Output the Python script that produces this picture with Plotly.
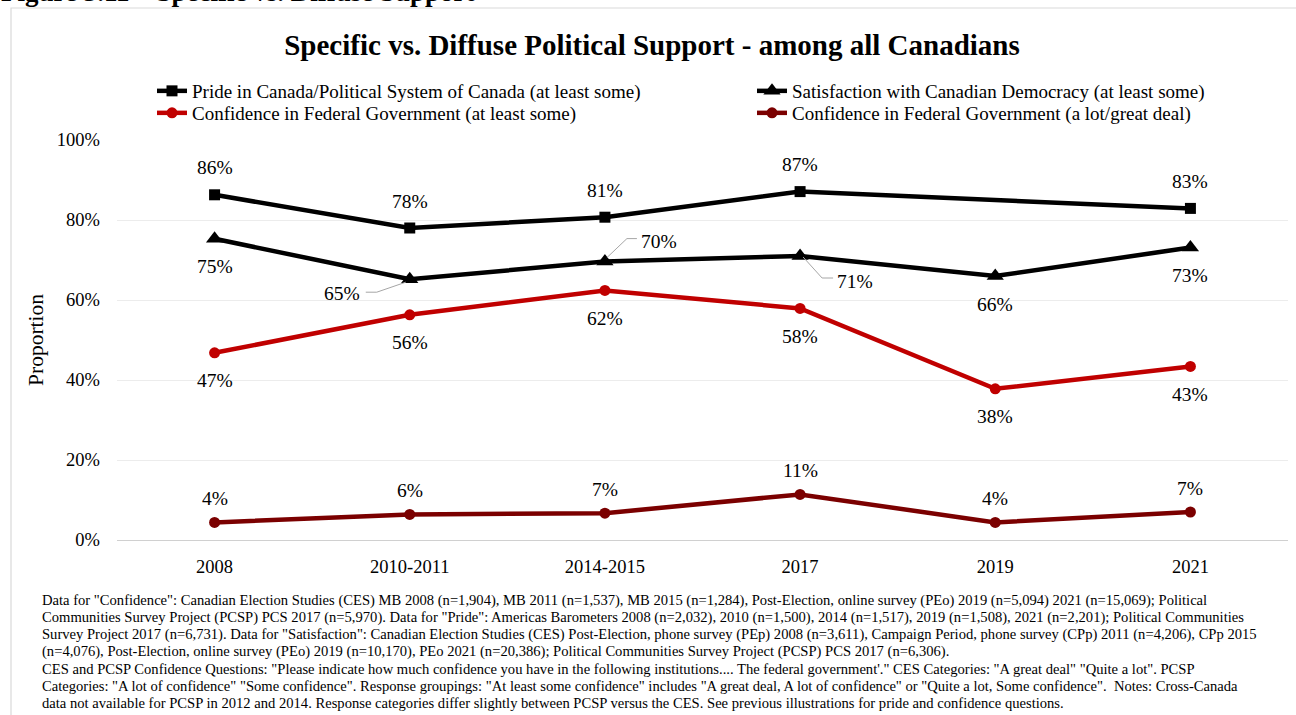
import plotly.graph_objects as go

# ---- data -------------------------------------------------------------
periods = ["2008", "2010-2011", "2014-2015", "2017", "2019", "2021"]

pride = [86.3, 78.0, 80.7, 87.1, None, 82.9]           # Pride in Canada / political system
satisfaction = [75.3, 65.2, 69.6, 71.0, 66.0, 73.1]    # Satisfaction with democracy
conf_some = [46.8, 56.3, 62.4, 57.9, 37.8, 43.4]       # Confidence in federal govt (at least some)
conf_great = [4.4, 6.4, 6.7, 11.4, 4.4, 7.0]           # Confidence in federal govt (a lot / great deal)

y_ticks = [0, 20, 40, 60, 80, 100]

series_names = [
    "Pride in Canada/Political System of Canada (at least some)",
    "Satisfaction with Canadian Democracy (at least some)",
    "Confidence in Federal Government (at least some)",
    "Confidence in Federal Government (a lot/great deal)",
]

chart_title = "<b>Specific vs. Diffuse Political Support - among all Canadians</b>"
figure_caption = "<b>Figure 3.11 – Specific vs. Diffuse Support</b>"

notes = [
    'Data for "Confidence": Canadian Election Studies (CES) MB 2008 (n=1,904), MB 2011 (n=1,537), MB 2015 (n=1,284), Post-Election, online survey (PEo) 2019 (n=5,094) 2021 (n=15,069); Political',
    'Communities Survey Project (PCSP) PCS 2017 (n=5,970). Data for "Pride": Americas Barometers 2008 (n=2,032), 2010 (n=1,500), 2014 (n=1,517), 2019 (n=1,508), 2021 (n=2,201); Political Communities',
    'Survey Project 2017 (n=6,731). Data for "Satisfaction": Canadian Election Studies (CES) Post-Election, phone survey (PEp) 2008 (n=3,611), Campaign Period, phone survey (CPp) 2011 (n=4,206), CPp 2015',
    '(n=4,076), Post-Election, online survey (PEo) 2019 (n=10,170), PEo 2021 (n=20,386); Political Communities Survey Project (PCSP) PCS 2017 (n=6,306).',
    'CES and PCSP Confidence Questions: "Please indicate how much confidence you have in the following institutions.... The federal government\'." CES Categories: "A great deal" "Quite a lot". PCSP',
    'Categories: "A lot of confidence" "Some confidence". Response groupings: "At least some confidence" includes "A great deal, A lot of confidence" or "Quite a lot, Some confidence".  Notes: Cross-Canada',
    'data not available for PCSP in 2012 and 2014. Response categories differ slightly between PCSP versus the CES. See previous illustrations for pride and confidence questions.',
]

# ---- layout geometry (pixels) ------------------------------------------
W, H = 1296, 715
L, R, T, B = 117, 1288, 140, 540
FONT = "Liberation Serif"

BLACK = "#000000"
RED = "#c00000"
MAROON = "#7b0000"


def px_x(p):
    return (p - L) / (R - L)


def px_y(p):
    return (B - p) / (B - T)


fig = go.Figure()

# each series gets its own legend box so the 2x2 key can be placed freely
legend_ids = ["legend", "legend2", "legend3", "legend4"]
legend_pos = [(152, 72), (752, 72), (152, 94), (752, 94)]

styles = [
    (pride, BLACK, "square", 11),
    (satisfaction, BLACK, "triangle-up", 15),
    (conf_some, RED, "circle", 11),
    (conf_great, MAROON, "circle", 11),
]
for name, lid, (vals, col, sym, size) in zip(series_names, legend_ids, styles):
    fig.add_trace(go.Scatter(
        x=periods, y=vals, name=name, mode="lines+markers", legend=lid,
        connectgaps=True, cliponaxis=False,
        line=dict(color=col, width=4.5),
        marker=dict(symbol=sym, size=size, color=col),
        hoverinfo="skip",
    ))

annotations = []


def value_label(i, v, dx, dy):
    # category axes take the position index, so labels use it directly
    annotations.append(dict(
        x=i, y=v, xref="x", yref="y", text=f"{v:.0f}%", showarrow=False,
        xshift=dx, yshift=dy, font=dict(family=FONT, size=19.5, color=BLACK),
    ))


# labels above / below each point
for i, v in enumerate(pride):
    if v is not None:
        value_label(i, v, 0, 27)
for i, v in enumerate(conf_some):
    value_label(i, v, 0, -28)
for i, v in enumerate(conf_great):
    value_label(i, v, 0, 24)

# satisfaction labels: some sit beside the marker with an elbow leader line
sat_offsets = [
    (0, -28, None),
    (-68, -14, [(-44, -13), (-33, -13), (-4, -3)]),
    (54, 20, [(32, 23), (22, 23), (2, 4)]),
    (55, -25, [(3, -1), (22, -22), (33, -22)]),
    (0, -28, None),
    (0, -28, None),
]
shapes = []
for i, (v, (dx, dy, leader)) in enumerate(zip(satisfaction, sat_offsets)):
    value_label(i, v, dx, dy)
    if leader:
        path = "M" + " L".join(f"{a},{b}" for a, b in leader)
        shapes.append(dict(
            type="path", path=path, xref="x", yref="y",
            xsizemode="pixel", ysizemode="pixel", xanchor=i, yanchor=v,
            line=dict(color="#a6a6a6", width=1),
        ))

# outer frame of the chart (runs off the right and bottom edges)
shapes.append(dict(
    type="rect", xref="paper", yref="paper", layer="below",
    x0=px_x(11), x1=px_x(1310), y0=px_y(8), y1=px_y(740),
    line=dict(color="#d9d9d9", width=1.2), fillcolor="rgba(0,0,0,0)",
))

# caption above the frame
annotations.append(dict(
    x=px_x(-1), y=px_y(9), xref="paper", yref="paper", xanchor="left", yanchor="bottom",
    text=figure_caption, showarrow=False, font=dict(family=FONT, size=27, color=BLACK),
))

# source notes
for i, line in enumerate(notes):
    annotations.append(dict(
        x=px_x(40), y=px_y(600 + i * 17.2), xref="paper", yref="paper",
        xanchor="left", yanchor="middle", text=line, showarrow=False,
        font=dict(family=FONT, size=14.6, color=BLACK),
    ))

legend_style = dict(
    orientation="v", xanchor="left", yanchor="top", xref="paper", yref="paper",
    font=dict(family=FONT, size=19, color=BLACK), bgcolor="rgba(0,0,0,0)",
    itemwidth=30, borderwidth=0,
)
legend_layout = {}
for lid, (lx, ly) in zip(legend_ids, legend_pos):
    legend_layout[lid] = dict(legend_style, x=px_x(lx), y=px_y(ly))

fig.update_layout(
    width=W, height=H,
    margin=dict(l=L, r=W - R, t=T, b=H - B, pad=0),
    paper_bgcolor="white", plot_bgcolor="white",
    font=dict(family=FONT, color=BLACK),
    title=dict(
        text=chart_title, x=652 / W, y=1 - 45 / H, xanchor="center", yanchor="middle",
        font=dict(family=FONT, size=29, color=BLACK),
    ),
    xaxis=dict(
        type="category", categoryorder="array", categoryarray=periods,
        range=[-0.5, len(periods) - 0.5], showgrid=False, showline=False, zeroline=False,
        ticks="", tickfont=dict(family=FONT, size=18.5, color=BLACK), ticklabelstandoff=13,
    ),
    yaxis=dict(
        range=[0, 100], tickvals=y_ticks, ticktext=[f"{t}%" for t in y_ticks],
        showgrid=True, gridcolor="#ececec", gridwidth=1,
        zeroline=True, zerolinecolor="#d0d0d0", zerolinewidth=1.3, showline=False,
        ticks="", tickfont=dict(family=FONT, size=18.5, color=BLACK), ticklabelstandoff=16,
        title=dict(text="Proportion", font=dict(family=FONT, size=21.5, color=BLACK), standoff=7),
    ),
    annotations=annotations,
    shapes=shapes,
    showlegend=True,
    **legend_layout,
)

fig.write_html("out.html")
